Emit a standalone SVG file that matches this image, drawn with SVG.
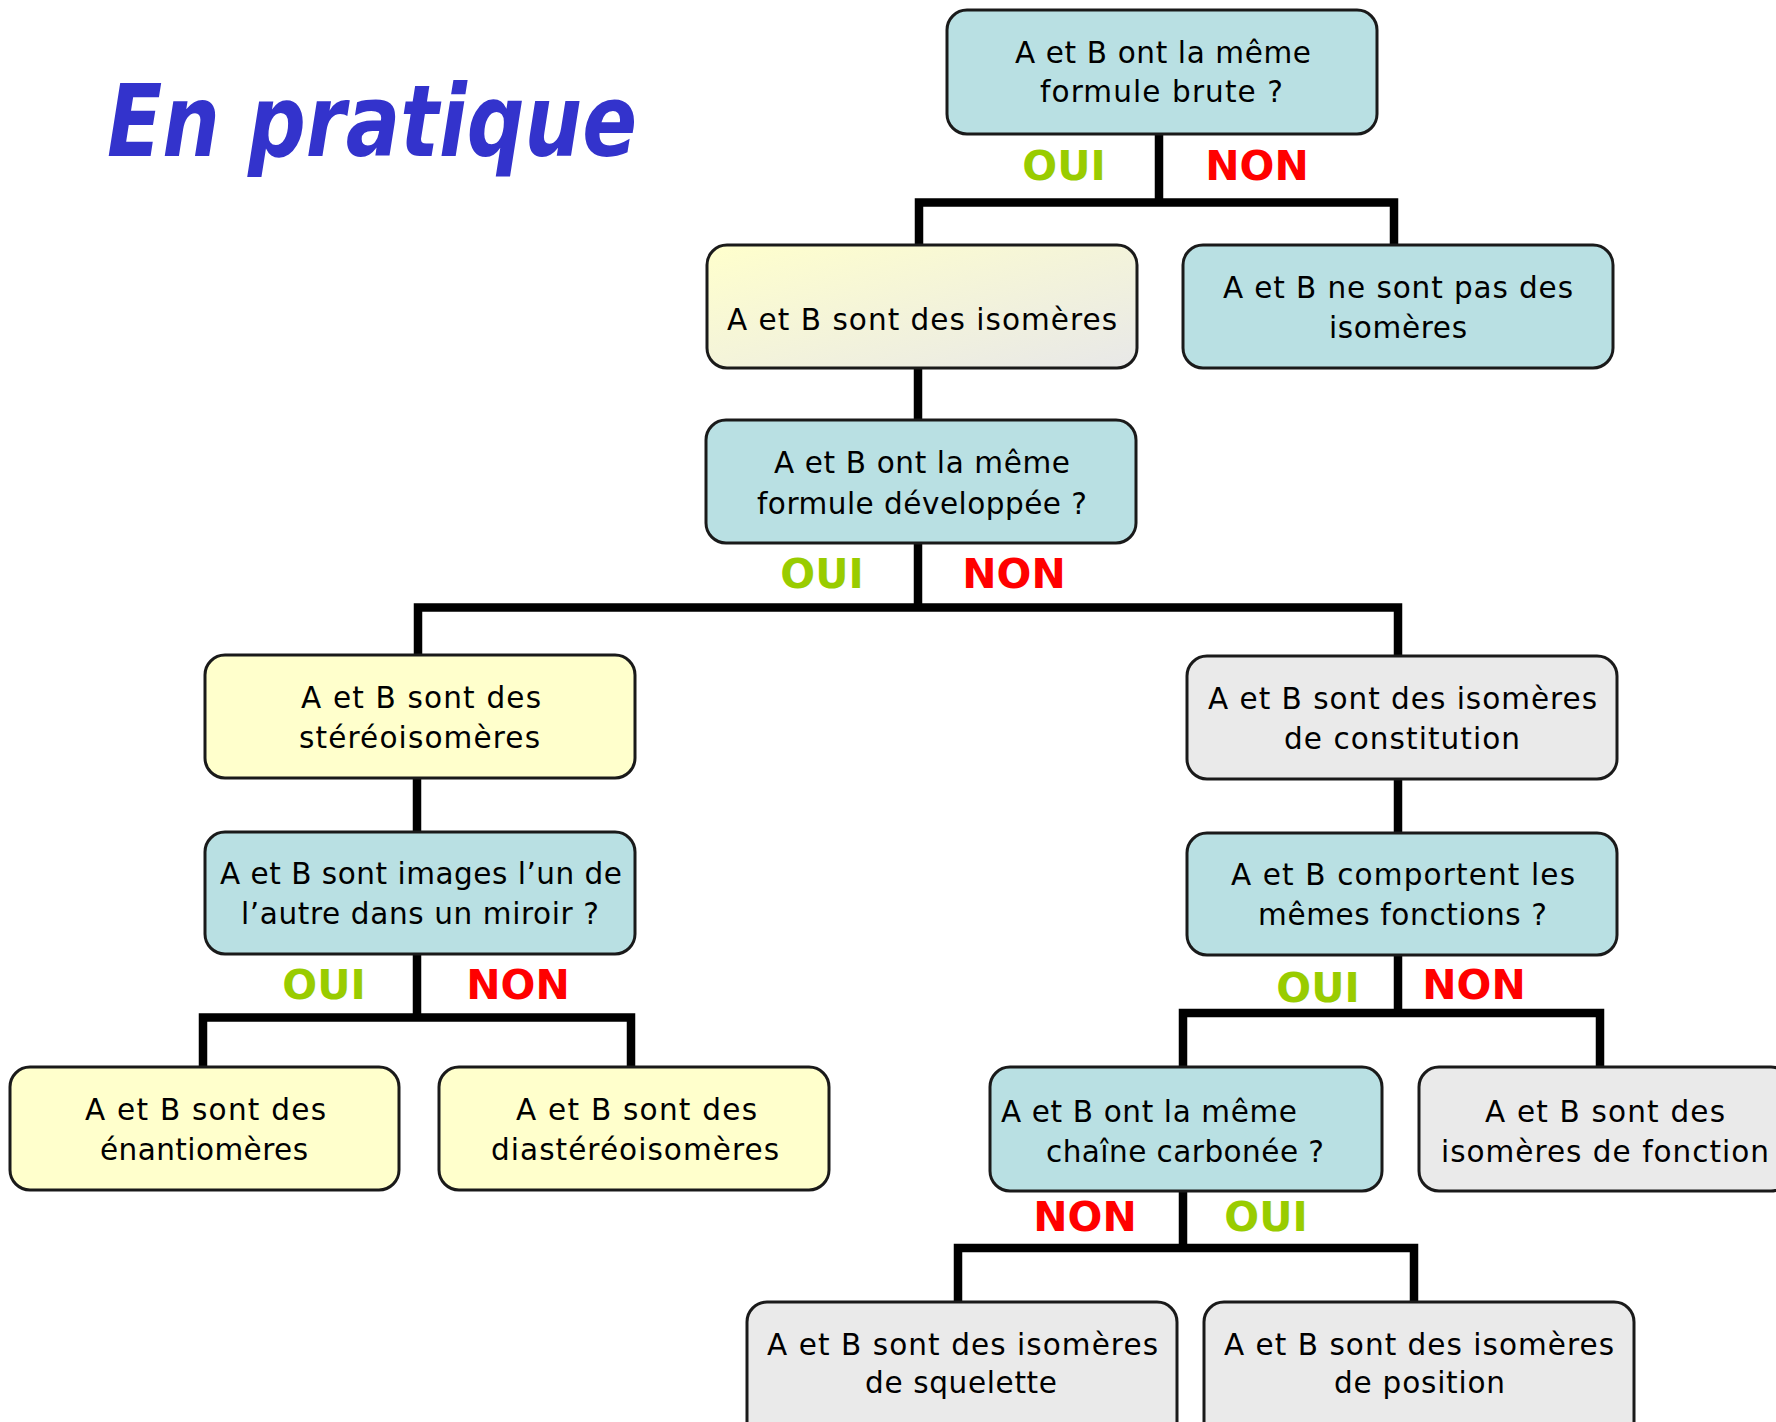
<svg xmlns="http://www.w3.org/2000/svg" width="1776" height="1422" viewBox="0 0 1776 1422">
  <style>
    .box { stroke: #1a1a1a; stroke-width: 3; }
    .q { fill: #B9E0E3; }
    .y { fill: #FFFFCC; }
    .g { fill: #EAEAEA; }
    .t { font-family: "DejaVu Sans", "Liberation Sans", sans-serif; font-size: 29.5px; fill: #000; text-anchor: middle; }
    .ts { font-family: "DejaVu Sans", "Liberation Sans", sans-serif; font-size: 29.5px; fill: #000; }
    .oui { font-family: "DejaVu Sans", "Liberation Sans", sans-serif; font-weight: bold; font-size: 41px; fill: #99CC00; text-anchor: middle; }
    .non { font-family: "DejaVu Sans", "Liberation Sans", sans-serif; font-weight: bold; font-size: 41px; fill: #FF0000; text-anchor: middle; }
    .link { fill: none; stroke: #000; stroke-width: 8.5; stroke-linejoin: miter; stroke-linecap: square; }
  </style>
  <defs>
    <linearGradient id="yg" x1="0" y1="0" x2="1" y2="1">
      <stop offset="0" stop-color="#FFFFCC"/>
      <stop offset="1" stop-color="#E8E8E8"/>
    </linearGradient>
  </defs>

  <rect width="1776" height="1422" fill="#fff"/>

  <text x="107" y="156" font-family="DejaVu Sans, Liberation Sans, sans-serif" font-weight="bold" font-style="italic" font-size="100" fill="#3333CC" textLength="530" lengthAdjust="spacingAndGlyphs">En pratique</text>

  <!-- connectors -->
  <g id="connectors">
    <path class="link" d="M1159,138 V202.5 M919,243 V202.5 H1394 V243"/>
    <path class="link" d="M918,370 V418"/>
    <path class="link" d="M918,545 V607.5 M418,653 V607.5 H1398 V654"/>
    <path class="link" d="M417,780 V830"/>
    <path class="link" d="M1398,781 V831"/>
    <path class="link" d="M417,956 V1017.5 M203,1065 V1017.5 H631 V1065"/>
    <path class="link" d="M1398,957 V1013 M1183,1065 V1013 H1600 V1065"/>
    <path class="link" d="M1183,1193 V1248 M958,1300 V1248 H1414 V1300"/>
  </g>

  <!-- branch labels -->
  <g id="labels">
    <text class="oui" x="1064" y="180">OUI</text>
    <text class="non" x="1257" y="180">NON</text>
    <text class="oui" x="822" y="588">OUI</text>
    <text class="non" x="1014" y="588">NON</text>
    <text class="oui" x="324" y="999">OUI</text>
    <text class="non" x="518" y="999">NON</text>
    <text class="oui" x="1318" y="1002">OUI</text>
    <text class="non" x="1474" y="999">NON</text>
    <text class="non" x="1085" y="1231">NON</text>
    <text class="oui" x="1266" y="1231">OUI</text>
  </g>

  <g id="n-formule-brute">
    <rect class="box q" x="947" y="10" width="430" height="124" rx="20"/>
    <text class="t" x="1163" y="63" textLength="296">A et B ont la même</text>
    <text class="t" x="1161.5" y="102" textLength="243">formule brute ?</text>
  </g>

  <g id="n-isomeres">
    <rect class="box" fill="url(#yg)" x="707" y="245" width="430" height="123" rx="20"/>
    <text class="t" x="922" y="330" textLength="390">A et B sont des isomères</text>
  </g>

  <g id="n-pas-isomeres">
    <rect class="box q" x="1183" y="245" width="430" height="123" rx="20"/>
    <text class="t" x="1398" y="298" textLength="350">A et B ne sont pas des</text>
    <text class="t" x="1398" y="338" textLength="138">isomères</text>
  </g>

  <g id="n-formule-developpee">
    <rect class="box q" x="706" y="420" width="430" height="123" rx="20"/>
    <text class="t" x="922" y="473" textLength="296">A et B ont la même</text>
    <text class="t" x="922" y="514" textLength="330">formule développée ?</text>
  </g>

  <g id="n-stereoisomeres">
    <rect class="box y" x="205" y="655" width="430" height="123" rx="20"/>
    <text class="t" x="421" y="708" textLength="240">A et B sont des</text>
    <text class="t" x="419.5" y="748" textLength="241">stéréoisomères</text>
  </g>

  <g id="n-constitution">
    <rect class="box g" x="1187" y="656" width="430" height="123" rx="20"/>
    <text class="t" x="1402.5" y="709" textLength="389">A et B sont des isomères</text>
    <text class="t" x="1402" y="749" textLength="236">de constitution</text>
  </g>

  <g id="n-miroir">
    <rect class="box q" x="205" y="832" width="430" height="122" rx="20"/>
    <text class="t" x="421" y="884" textLength="402">A et B sont images l’un de</text>
    <text class="t" x="420" y="924" textLength="358">l’autre dans un miroir ?</text>
  </g>

  <g id="n-fonctions">
    <rect class="box q" x="1187" y="833" width="430" height="122" rx="20"/>
    <text class="t" x="1403" y="885" textLength="344">A et B comportent les</text>
    <text class="t" x="1402.5" y="925" textLength="289">mêmes fonctions ?</text>
  </g>

  <g id="n-enantiomeres">
    <rect class="box y" x="10" y="1067" width="389" height="123" rx="20"/>
    <text class="t" x="205.5" y="1120" textLength="241">A et B sont des</text>
    <text class="t" x="204" y="1160" textLength="208">énantiomères</text>
  </g>

  <g id="n-diastereoisomeres">
    <rect class="box y" x="439" y="1067" width="390" height="123" rx="20"/>
    <text class="t" x="636.5" y="1120" textLength="241">A et B sont des</text>
    <text class="t" x="635" y="1160" textLength="288">diastéréoisomères</text>
  </g>

  <g id="n-chaine">
    <rect class="box q" x="990" y="1067" width="392" height="124" rx="20"/>
    <text class="ts" x="1001" y="1122" textLength="296">A et B ont la même</text>
    <text class="ts" x="1046" y="1162" textLength="278">chaîne carbonée ?</text>
  </g>

  <g id="n-fonction">
    <rect class="box g" x="1419" y="1067" width="372" height="124" rx="20"/>
    <text class="t" x="1605" y="1122" textLength="240">A et B sont des</text>
    <text class="t" x="1605" y="1162" textLength="328">isomères de fonction</text>
  </g>

  <g id="n-squelette">
    <rect class="box g" x="747" y="1302" width="430" height="140" rx="20"/>
    <text class="t" x="962.5" y="1355" textLength="391">A et B sont des isomères</text>
    <text class="t" x="961" y="1393" textLength="192">de squelette</text>
  </g>

  <g id="n-position">
    <rect class="box g" x="1204" y="1302" width="430" height="140" rx="20"/>
    <text class="t" x="1419" y="1355" textLength="390">A et B sont des isomères</text>
    <text class="t" x="1419.5" y="1393" textLength="171">de position</text>
  </g>
</svg>
